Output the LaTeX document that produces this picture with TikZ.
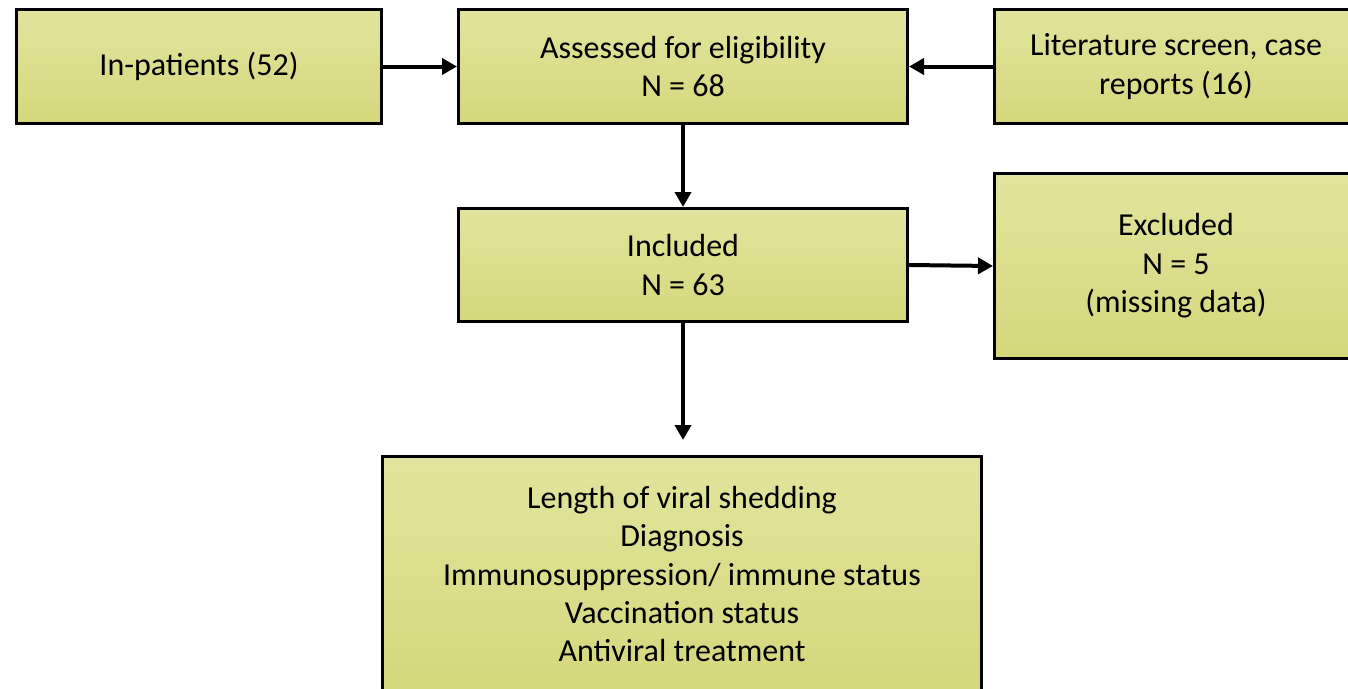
\documentclass[tikz,border=0pt]{standalone}
\usepackage{fontspec}
\setmainfont{Carlito}
\usepackage{tikz}
\usetikzlibrary{arrows.meta}
\usetikzlibrary{positioning}
\definecolor{boxtop}{HTML}{E2E49D}
\definecolor{boxbot}{HTML}{D5D77C}
\tikzset{flowbox/.style = {draw, line width = 3pt, top color = boxtop, bottom color = boxbot,
    align = center, inner sep = 0, font = \fontsize{32}{38.4}\selectfont}}
\tikzset{arr/.style = {line width = 4pt, -{Triangle[length = 15pt, width = 16pt]}}}

\begin{document}
\begin{tikzpicture}[x = 1pt, y = 1pt]
    \useasboundingbox (0, 0) rectangle (1348, -688);
    \clip (0, 0) rectangle (1348, -688);

    \node [flowbox, minimum width = 365pt, minimum height = 114pt] (inpat) at (199, -66.5) {In-patients (52)};
    \node [flowbox, minimum width = 449pt, minimum height = 114pt] (assess) at (683, -66.5)
      {Assessed for eligibility\\ N = 68};
    \node [flowbox, minimum width = 363pt, minimum height = 114pt] (lit) at (1176, -66.5)
      {Literature screen, case\\ reports (16)};

    \node [flowbox, minimum width = 449pt, minimum height = 113pt] (incl) at (683, -265)
      {Included\\ N = 63};
    \node [flowbox, minimum width = 363pt, minimum height = 185pt] (excl) at (1176, -266)
      {Excluded\\ N = 5\\ (missing data)};

    \node [flowbox, minimum width = 599pt, minimum height = 235pt] (result) at (682, -574)
      {Length of viral shedding\\ Diagnosis\\ Immunosuppression/ immune status\\
       Vaccination status\\ Antiviral treatment};

    \draw [arr] (inpat) -- (assess);
    \draw [arr] (lit) -- (assess);
    \draw [arr] (assess) -- (incl);
    \draw [arr] (incl.east) -- (excl.west);
    \draw [arr, shorten >= 15pt] (incl.south) -- (incl.south |- result.north);
\end{tikzpicture}
\end{document}
